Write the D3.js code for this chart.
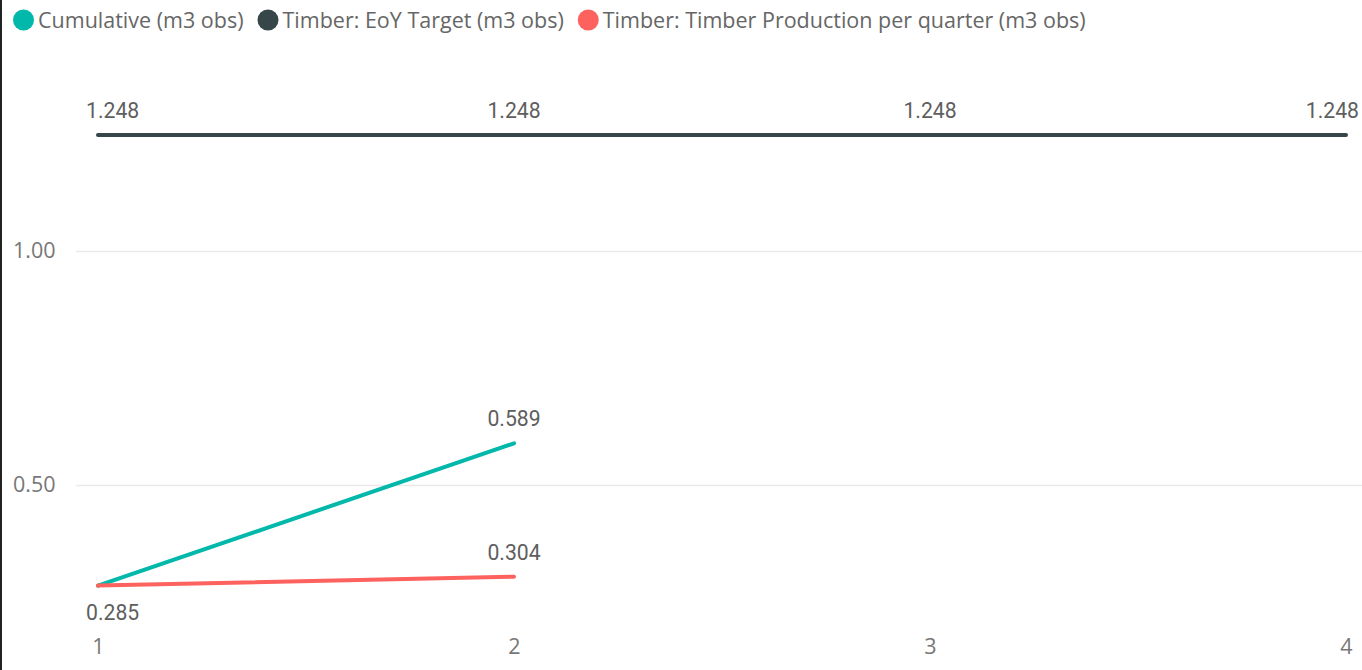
<!DOCTYPE html>
<html><head><meta charset="utf-8">
<script src="https://cdn.jsdelivr.net/npm/d3@7"></script>
<style>body{margin:0;background:#fff;overflow:hidden}svg{display:block}</style>
</head><body>
<svg id="chart" width="1362" height="670"></svg>
<script>
const quarters = [1, 2, 3, 4];
const cumulative = [0.285, 0.589];
const eoyTarget = [1.248, 1.248, 1.248, 1.248];
const production = [0.285, 0.304];
const yTicks = [0.5, 1.0];
const seriesNames = ["Cumulative (m3 obs)", "Timber: EoY Target (m3 obs)", "Timber: Timber Production per quarter (m3 obs)"];
const seriesColors = ["#01B8AA", "#374649", "#FD625E"];

const svg = d3.select("#chart");
const W = 1362, H = 670;
const x = d3.scaleLinear().domain([1, 4]).range([98, 1346]);
const y = d3.scaleLinear().domain([0.2, 1.3]).range([625.4, 110.6]);

// left border
svg.append("rect").attr("x", 0).attr("y", 0).attr("width", 2).attr("height", H).attr("fill", "#222");

// legend
const legend = svg.append("g").attr("font-family", "'Open Sans', sans-serif").attr("font-size", 21.5).attr("fill", "#666");
let lx = 13;
seriesNames.forEach((n, i) => {
  legend.append("circle").attr("cx", lx + 10.5).attr("cy", 20).attr("r", 10.5).attr("fill", seriesColors[i]);
  const t = legend.append("text").attr("x", lx + 25).attr("y", 28).text(n);
  const w = t.node().getComputedTextLength();
  lx = lx + 25 + w + 14;
});

// gridlines & y axis
const yAxis = d3.axisLeft(y).tickValues(yTicks).tickFormat(d3.format(".2f")).tickSize(-(W - 76)).tickPadding(21);
const gy = svg.append("g").attr("transform", "translate(76,0)").call(yAxis);
gy.select(".domain").remove();
gy.selectAll(".tick line").attr("stroke", "#e9e9e9").attr("stroke-width", 1.5);
gy.selectAll(".tick text").attr("font-family", "'Open Sans', sans-serif").attr("font-size", 21.5).attr("fill", "#777").attr("text-anchor", "start").attr("x", -63);

// x axis
const xAxis = d3.axisBottom(x).tickValues(quarters).tickFormat(d3.format("d")).tickSize(0).tickPadding(0);
const gx = svg.append("g").attr("transform", "translate(0,639)").call(xAxis);
gx.select(".domain").remove();
gx.selectAll(".tick text").attr("font-family", "'Open Sans', sans-serif").attr("font-size", 21.5).attr("fill", "#777").attr("dy", "0.71em");

// lines
const line = d3.line().x((d, i) => x(quarters[i])).y(d => y(d));
[[eoyTarget, 1], [cumulative, 0], [production, 2]].forEach(([data, ci]) => {
  svg.append("path").datum(data).attr("d", line).attr("fill", "none")
    .attr("stroke", seriesColors[ci]).attr("stroke-width", 4).attr("stroke-linecap", "round");
});

// data labels
const labels = [];
eoyTarget.forEach((v, i) => labels.push({q: quarters[i], v, pos: "above"}));
labels.push({q: quarters[1], v: cumulative[1], pos: "above"});
labels.push({q: quarters[1], v: production[1], pos: "above"});
labels.push({q: quarters[0], v: cumulative[0], pos: "below"});
const fmt = d3.format(".3f");
const lg = svg.append("g").attr("font-family", "Roboto, sans-serif").attr("font-size", 21.2).attr("fill", "#5e5e5e");
labels.forEach(d => {
  const t = lg.append("text").attr("text-anchor", "middle").text(fmt(d.v))
    .attr("y", y(d.v) + (d.pos === "above" ? -17 : 34));
  const w = t.node().getComputedTextLength();
  let cx = x(d.q);
  cx = Math.max(86 + w / 2, Math.min(1359 - w / 2, cx));
  t.attr("x", cx);
});
</script>
</body></html>
